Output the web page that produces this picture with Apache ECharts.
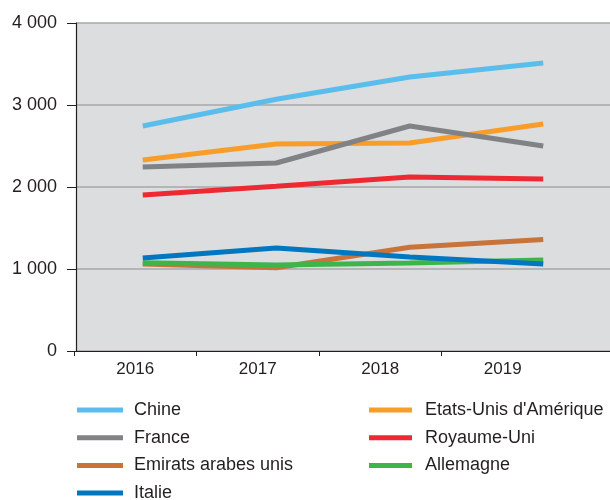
<!DOCTYPE html>
<html>
<head>
<meta charset="utf-8">
<script src="https://cdn.jsdelivr.net/npm/echarts@6/dist/echarts.min.js"></script>
<style>
  html, body { margin: 0; padding: 0; background: #fff; }
  #chart { width: 610px; height: 500px; }
</style>
</head>
<body>
<div id="chart"></div>
<script>
var years = ['2016', '2017', '2018', '2019'];
var yTicks = [0, 1000, 2000, 3000, 4000];

var chine = [2744, 3070, 3341, 3512];
var etatsUnis = [2329, 2524, 2537, 2768];
var france = [2244, 2293, 2744, 2500];
var royaumeUni = [1902, 2010, 2122, 2098];
var emirats = [1060, 1015, 1265, 1360];
var allemagne = [1075, 1049, 1073, 1110];
var italie = [1134, 1256, 1146, 1061];

var names = ['Chine', 'Etats-Unis d\'Amérique', 'France', 'Royaume-Uni',
    'Emirats arabes unis', 'Allemagne', 'Italie'];
var values = [chine, etatsUnis, france, royaumeUni, emirats, allemagne, italie];
var colors = ['#5bbdec', '#f99d2a', '#808285', '#ed2a33', '#c8733a', '#3db54a', '#0077c0'];

var font = 'Liberation Sans, Arial, sans-serif';
var txt = '#231f20';

function fmt(v) {
    return String(v).replace(/\B(?=(\d{3})+(?!\d))/g, ' ');
}

var series = names.map(function (n, i) {
    return {
        name: n,
        type: 'line',
        xAxisIndex: 0,
        yAxisIndex: 0,
        data: values[i],
        symbol: 'none',
        color: colors[i],
        lineStyle: { width: 5, color: colors[i] },
        z: 2 + i
    };
});

var legendBase = {
    orient: 'vertical',
    icon: 'rect',
    itemHeight: 5,
    itemGap: 9.7,
    padding: 0,
    height: 120
};

var option = {
    animation: false,
    legend: [
        Object.assign({}, legendBase, {
            left: 77, top: 401, itemWidth: 46,
            textStyle: { fontFamily: font, fontSize: 18, color: txt, padding: [0, 0, 0, 6] },
            data: [names[0], names[2], names[4], names[6]]
        }),
        Object.assign({}, legendBase, {
            left: 369, top: 401, itemWidth: 43,
            textStyle: { fontFamily: font, fontSize: 18, color: txt, padding: [0, 0, 0, 8] },
            data: [names[1], names[3], names[5]]
        })
    ],
    grid: [
        { left: 76, right: 0, top: 23, bottom: 149, show: true, backgroundColor: '#dcdddf', borderWidth: 0 },
        // axis for year labels and ticks (ticks sit on band edges, labels between)
        { left: 12.75, width: 490, top: 23, bottom: 149 }
    ],
    xAxis: [
        {
            type: 'category', gridIndex: 0, data: years, boundaryGap: true,
            axisLine: { show: true, lineStyle: { color: txt, width: 1.2 } },
            axisTick: { show: false }, axisLabel: { show: false }, splitLine: { show: false }
        },
        {
            type: 'category', gridIndex: 1, data: years, boundaryGap: true,
            axisLine: { show: false },
            axisTick: { show: true, alignWithLabel: true, length: 5, lineStyle: { color: txt, width: 1 } },
            axisLabel: { fontFamily: font, fontSize: 17, color: txt, margin: 10, padding: [0, 0, 0, 122.5] },
            splitLine: { show: false }
        }
    ],
    yAxis: [
        {
            type: 'value', gridIndex: 0, min: yTicks[0], max: yTicks[yTicks.length - 1], interval: 1000,
            axisLine: { show: true, lineStyle: { color: txt, width: 1.2 } },
            axisTick: { show: true, inside: false, length: 9, lineStyle: { color: txt, width: 1 } },
            axisLabel: { fontFamily: font, fontSize: 18, color: txt, margin: 19, formatter: fmt },
            splitLine: { show: true, lineStyle: { color: '#a6a7a9', width: 1.5 } }
        },
        {
            type: 'value', gridIndex: 1, min: 0, max: 4000, show: false
        }
    ],
    series: series
};

var myChart = echarts.init(document.getElementById('chart'), null, { renderer: 'canvas' });
myChart.setOption(option);
</script>
</body>
</html>
